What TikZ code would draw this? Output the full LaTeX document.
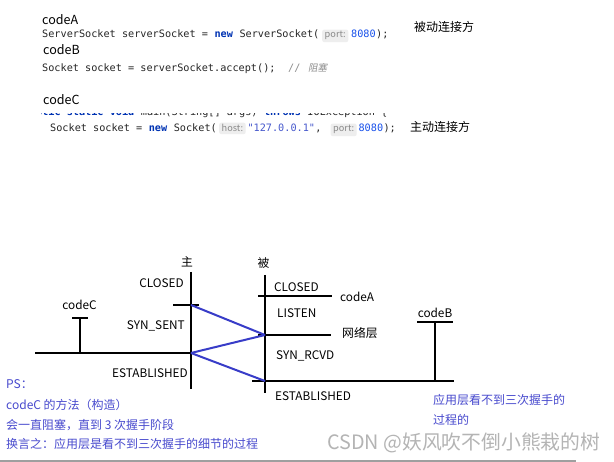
\documentclass[tikz,border=0pt]{standalone}
\usepackage{fontspec}
\setmainfont{Noto Sans CJK SC}
\newfontfamily\codefont{DejaVu Sans Mono}
\newfontfamily\slantcjk[FakeSlant=0.2]{Noto Sans CJK SC}
\definecolor{codegray}{HTML}{262626}
\definecolor{kwblue}{HTML}{0033B3}
\definecolor{numblue}{HTML}{1750EB}
\definecolor{strblue}{HTML}{4658CC}
\definecolor{hintbg}{HTML}{EEEEEE}
\definecolor{hinttext}{HTML}{8A8A8A}
\definecolor{cmtgray}{HTML}{8C8C8C}
\definecolor{notesblue}{RGB}{72,74,206}
\definecolor{linkblue}{RGB}{56,60,200}
\definecolor{wmgray}{HTML}{B4B4B4}
\tikzset{
  code/.style={inner sep=0pt, anchor=base west, text=codegray, font=\codefont\fontsize{10.2}{12}\selectfont},
  kw/.style={code, text=kwblue, font=\codefont\bfseries\fontsize{10.2}{12}\selectfont},
  num/.style={code, text=numblue},
  str/.style={code, text=strblue},
  hint/.style={anchor=base west, fill=hintbg, rounded corners=2pt, text=hinttext, inner xsep=2.5pt, inner ysep=2pt, font=\fontsize{9.2}{11}\selectfont},
  lbl/.style={inner sep=0pt, font=\fontsize{12.5}{14}\selectfont},
  side/.style={inner sep=0pt, anchor=west, font=\fontsize{12}{14}\selectfont},
  st/.style={inner sep=0pt, font=\fontsize{11.8}{14}\selectfont},
  note/.style={inner sep=0pt, anchor=base west, text=notesblue, font=\fontsize{12}{14}\selectfont},
  bar/.style={line width=2pt, black},
  link/.style={line width=2pt, linkblue}
}
\begin{document}
\begin{tikzpicture}[x=1pt,y=-1pt]
\useasboundingbox (0,0) rectangle (614,462);
\fill[white] (0,0) rectangle (614,462);

% ---------- top: code ----------
\node[lbl, anchor=base west] (codeAlbl) at (42,25) {codeA};
\node[code] (a1) at (42,38) {ServerSocket serverSocket =\ \null};
\node[kw] (a2) at (a1.base east) {new};
\node[code] (a3) at (a2.base east) {\ ServerSocket(};
\node[hint] (a4) at ([xshift=2.5pt]a3.base east) {port:};
\node[num] (a5) at ([xshift=2.5pt]a4.base east) {8080};
\node[code] (a6) at (a5.base east) {);};
\node[side] (passive) at (414,27) {被动连接方};

\node[lbl, anchor=base west] (codeBlbl) at (43,55) {codeB};
\node[code] (b1) at (42,72) {Socket socket = serverSocket.accept();\ \ \null};
\node[code, text=cmtgray] (b2) at (b1.base east) {//\ \null};
\node[inner sep=0pt, anchor=base west, text=cmtgray, font=\slantcjk\fontsize{9.5}{11}\selectfont] (b3) at ([xshift=1pt]b2.base east) {阻塞};

\node[lbl, anchor=base west] (codeClbl) at (43,105) {codeC};
\begin{scope}
  \clip (41,114) rectangle (420,118);
  \node[kw] (p1) at (23.6,115.5) {public static void};
  \node[code] (p2) at (p1.base east) {\ main(String[] args)\ \null};
  \node[kw] (p3) at (p2.base east) {throws};
  \node[code] (p4) at (p3.base east) {\ IOException \{};
\end{scope}
\node[code] (c1) at (50,132) {Socket socket =\ \null};
\node[kw] (c2) at (c1.base east) {new};
\node[code] (c3) at (c2.base east) {\ Socket(};
\node[hint] (c4) at ([xshift=2pt]c3.base east) {host:};
\node[str] (c5) at ([xshift=1.5pt]c4.base east) {"127.0.0.1"};
\node[code] (c6) at (c5.base east) {,\ \null};
\node[hint] (c7) at ([xshift=2.5pt]c6.base east) {port:};
\node[num] (c8) at ([xshift=1.5pt]c7.base east) {8080};
\node[code] (c9) at (c8.base east) {);};
\node[side] (active) at (410,127) {主动连接方};

% ---------- bottom: diagram ----------
\coordinate (Ltop) at (191,272);
\coordinate (Lbot) at (191,389);
\coordinate (Ltick1) at (173,305);
\coordinate (Ltick2) at (199,305);
\coordinate (Lsyn) at (191,305);
\coordinate (Lest) at (191,353);
\coordinate (Lline) at (35,353);
\coordinate (Cbar1) at (72,318);
\coordinate (Cbar2) at (87.5,318);
\coordinate (Ctop) at (80,318);
\coordinate (Cbot) at (80,353);

\coordinate (Rtop) at (265,275);
\coordinate (Rbot) at (265,393);
\coordinate (R1a) at (258,296);
\coordinate (R1b) at (332,296);
\coordinate (R2a) at (258,335);
\coordinate (R2b) at (331,335);
\coordinate (R2) at (265,335);
\coordinate (R3a) at (252,381);
\coordinate (R3b) at (454,381);
\coordinate (R3) at (265,381);
\coordinate (Bbar1) at (417,322);
\coordinate (Bbar2) at (453,322);
\coordinate (Btop) at (435,322);
\coordinate (Bbot) at (435,381);

\draw[bar] (Ltop) -- (Lbot);
\draw[bar] (Ltick1) -- (Ltick2);
\draw[bar] (Lline) -- (Lest);
\draw[bar] (Cbar1) -- (Cbar2);
\draw[bar] (Ctop) -- (Cbot);
\draw[bar] (Rtop) -- (Rbot);
\draw[bar] (R1a) -- (R1b);
\draw[bar] (R2a) -- (R2b);
\draw[bar] (R3a) -- (R3b);
\draw[bar] (Bbar1) -- (Bbar2);
\draw[bar] (Btop) -- (Bbot);

\draw[link] (Lsyn) -- (R2);
\draw[link] (R2) -- (Lest);
\draw[link] (Lest) -- (R3);

\node[st] (zhu) at (187,262) {主};
\node[st] (bei) at (263.5,263) {被};
\node[st, anchor=base east] (lclosed) at (184,288) {CLOSED};
\node[st, anchor=base east] (lsynsent) at (185,330) {SYN\_SENT};
\node[st, anchor=base east] (lest) at (188,378) {ESTABLISHED};
\node[st, anchor=base] (lcodec) at (79.5,310) {codeC};
\node[st, anchor=base west] (rclosed) at (274,292) {CLOSED};
\node[st, anchor=base west] (rcodea) at (340,302) {codeA};
\node[st, anchor=base west] (rlisten) at (277,318) {LISTEN};
\node[st, anchor=west] (rnet) at (342,333) {网络层};
\node[st, anchor=base west] (rsynrcvd) at (276,360) {SYN\_RCVD};
\node[st, anchor=base west] (rest) at (275,401) {ESTABLISHED};
\node[st, anchor=base] (rcodeb) at (435,317.5) {codeB};

% ---------- notes ----------
\node[note] (n1) at (6,389) {PS：};
\node[note] (n2) at (6,410) {codeC 的方法（构造）};
\node[note] (n3) at (6,430) {会一直阻塞，直到 3 次握手阶段};
\node[note] (n4) at (6,449) {换言之：应用层是看不到三次握手的细节的过程};
\node[note, anchor=west] (m1) at (433,400) {应用层看不到三次握手的};
\node[note, anchor=west] (m2) at (433,420) {过程的};

\node[inner sep=0pt, anchor=west, text=wmgray, font=\fontsize{19.8}{21}\selectfont] (wm) at (327,443) {CSDN @妖风吹不倒小熊栽的树};
\coordinate (g1) at (0,461.2);
\coordinate (g2) at (576,461.2);
\draw[line width=1.4pt, gray!75] (g1) -- (g2);
\end{tikzpicture}
\end{document}
